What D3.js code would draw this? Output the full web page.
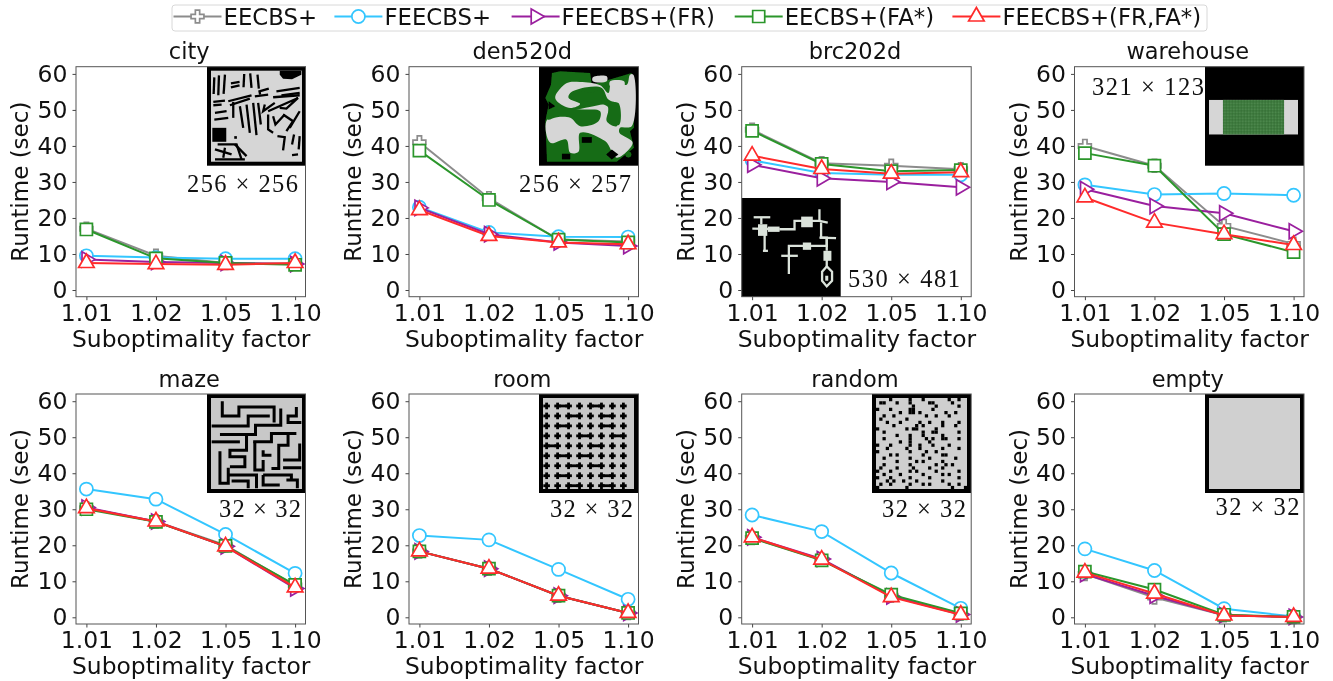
<!DOCTYPE html>
<html><head><meta charset="utf-8">
<script src="https://cdn.jsdelivr.net/npm/d3@7/dist/d3.min.js"></script>
<style>
html,body{margin:0;padding:0;background:#fff;overflow:hidden}
svg{display:block;filter:blur(.4px)}
text{font-family:"DejaVu Sans",sans-serif;fill:#111}
.inlab{font-family:"Liberation Serif",serif}
.tick line{stroke:#444}
</style></head><body><svg id="c" width="1333" height="681">
<defs><filter id="soft" x="0" y="0" width="1" height="1"><feGaussianBlur stdDeviation="0.55"/></filter></defs></svg>
<script>
const factors=["1.01","1.02","1.05","1.10"];
const mapNames=["city","den520d","brc202d","warehouse","maze","room","random","empty"];
const mapSizes=["256 × 256","256 × 257","530 × 481","321 × 123","32 × 32","32 × 32","32 × 32","32 × 32"];
const yTicks=[0,10,20,30,40,50,60];
const seriesNames=["EECBS+","FEECBS+","FEECBS+(FR)","EECBS+(FA*)","FEECBS+(FR,FA*)"];
const seriesColors=["#8c8c8c","#33c6ff","#9a1f9e","#2b962b","#ff2b2b"];
const seriesSymbols=["plus","circle","right","square","triangle"];
const eecbs=[[17,9.5,7.5,7.3],[41,25.5,14,13.5],[44.5,35.2,34.5,33.5],[40,34.5,17.8,12.8],[30.3,26.6,20,8.8],[18.3,13.5,6,1.2],[22,16,6,1],[12,5.5,.6,.1]];
const feecbs=[[9.5,9,8.7,8.7],[23,16,14.8,14.7],[36,32.5,32,32],[29.2,26.5,26.8,26.3],[35.6,32.8,23,12.2],[22.7,21.5,13.3,5],[28.4,23.8,12.3,2.5],[19,13,2.4,.2]];
const feecbsFR=[[8.5,7.8,7.5,7.2],[22.8,15.5,13.2,12.2],[34.8,31,30,28.5],[28,23.3,21.3,16.3],[30.5,26.6,19.7,8],[18.3,13.5,6,1.2],[22.2,16.2,5.8,.8],[12,6,.6,.1]];
const eecbsFA=[[16.8,8.8,7.5,7],[38.7,25,14,13.2],[44.2,35,33,33.3],[38,34.5,15.5,10.5],[30,26.5,19.8,9],[18.3,13.5,6,1.2],[22,15.8,6.3,1.1],[12.7,7.7,.7,.1]];
const feecbsFRFA=[[7.5,7.2,7,7.5],[22.2,15,13.2,12.7],[37.3,33.6,32.3,32.7],[25.7,18.7,15.5,12.5],[30.3,26.6,19.7,8.3],[18.3,13.5,6,1.2],[22.2,16,5.6,.7],[12.4,6.6,.5,.1]];
const seriesData=[eecbs,feecbs,feecbsFR,eecbsFA,feecbsFRFA];

const panelLefts=[76,409,741.7,1074.5];
const panelWidth=229.5;
const rowTops=[66.7,394];
const svg=d3.select("#c");
const sym={plus:d3.symbol(d3.symbolCross,92)(),circle:d3.symbol(d3.symbolCircle,135)(),square:d3.symbol(d3.symbolSquare,145)(),triangle:d3.symbol(d3.symbolTriangle,105)(),right:d3.symbol(d3.symbolTriangle,100)()};
function marker(g,name,color,x,y){
  g.append("path").attr("d",sym[name]).attr("fill","#fff").attr("stroke",color).attr("stroke-width",1.7)
   .attr("transform",`translate(${x},${y})`+(name==="right"?" rotate(90)":""));
}

// ---- inset thumbnails (map-space drawings, zoom coords 6..304) ----
const GRAY="#d6d6d6", MAPGREEN="#146c14";
const cityWalls=[[[28,38],[26,88]],[[42,32],[40,92]],[[60,30],[56,88]],[[78,56],[104,52]],[[78,68],[104,62]],[[118,28],[116,68]],[[136,26],[140,70]],[[158,30],[162,72]],[[166,90],[164,80],[192,72]],[[215,80],[285,70]],[[230,92],[285,85]],[[25,112],[60,108]],[[25,122],[50,120]],[[70,110],[140,92]],[[75,122],[135,102]],[[150,95],[190,90]],[[205,98],[285,92]],[[30,145],[65,140]],[[28,165],[70,160]],[[85,112],[85,160]],[[105,125],[115,190]],[[125,120],[135,205]],[[145,115],[155,212]],[[160,115],[168,180]],[[180,120],[175,140],[210,115]],[[190,140],[280,100],[245,132],[225,130]],[[190,150],[190,195],[205,205]],[[205,155],[212,180],[240,150]],[[235,150],[265,170],[245,200]],[[285,140],[255,190]],[[218,215],[240,218],[235,258]],[[268,210],[262,240]],[[285,215],[282,255]],[[262,272],[280,270]],[[38,240],[95,240],[110,285]],[[30,285],[120,285]],[[30,255],[80,270]],[[55,280],[60,250]],[[90,240],[125,275]]];
const cityBlocks=[[[225,18],[290,18],[290,30],[262,44],[235,42],[225,30]],[[22,190],[64,190],[64,232],[22,232]],[[88,215],[96,215],[96,223],[88,223]]];
const denGreen=[[[45,25],[70,20],[160,25],[165,60],[285,25],[292,190],[280,200],[292,250],[240,292],[30,292],[25,170],[35,120],[25,100],[42,60]]];
const denOpen=[[[55,95],[90,55],[130,52],[190,62],[215,85],[225,50],[270,60],[280,30],[290,30],[285,185],[250,190],[248,205],[288,235],[240,280],[205,230],[130,205],[125,262],[100,265],[88,225],[40,235],[28,170],[60,150],[120,135],[170,125],[200,120],[215,130],[210,170],[240,185],[245,120],[215,105],[195,70],[150,68],[100,85],[95,100],[130,118],[100,130],[60,110]],[[168,38],[210,35],[210,50],[168,50]],[[220,50],[262,50],[262,65],[220,65]]];
const denGreenTop=[[[100,95],[130,80],[160,85],[195,75],[190,115],[150,110],[125,108]],[[30,150],[60,135],[135,135],[190,140],[185,170],[130,185],[100,160],[60,158],[32,165]],[[218,120],[245,115],[248,180],[225,178]]];
const denBlack=[[[135,218],[165,218],[165,235],[135,235]],[[225,255],[245,270],[225,285],[208,270]],[[35,110],[55,125],[35,135]],[[75,268],[100,268],[100,285],[75,285]]];
const brcPaths=[[[42,64],[92,64]],[[65,64],[65,85]],[[38,98],[120,100]],[[75,100],[75,165]],[[70,165],[85,165]],[[120,100],[165,100],[165,75],[240,75],[240,40]],[[240,75],[265,80]],[[245,80],[245,125],[262,125],[262,165]],[[240,125],[290,127]],[[262,125],[262,150],[148,150],[148,235]],[[125,180],[175,180]],[[262,190],[262,215]]];
const brcBlocks=[[55,85,28,35],[185,62,35,32],[190,140,25,22],[252,165,24,30],[85,92,35,16]];
const mazeWalls=[[[52,28],[52,72],[102,72],[102,45],[208,45],[208,92]],[[20,102],[130,102],[130,72],[195,72]],[[228,50],[228,100],[152,100],[152,128],[45,128]],[[275,45],[275,72],[250,72],[250,92],[290,92]],[[20,150],[105,150]],[[125,128],[125,175],[75,175],[75,195],[120,195],[120,225],[75,225]],[[145,150],[200,150],[200,125],[275,125]],[[250,125],[250,160],[222,160],[222,230],[200,230]],[[150,150],[150,235],[175,235],[175,205]],[[175,175],[175,190],[200,190]],[[285,155],[285,205],[235,205]],[[235,228],[290,228]],[[45,178],[45,275],[70,275],[70,228]],[[72,250],[155,250],[155,290]],[[80,268],[130,268],[130,290]],[[175,250],[260,250],[260,265]],[[175,250],[175,280],[225,280]],[[245,265],[278,265],[278,290]]];
const roomX=d3.range(8).map(i=>29+33*i), roomY=d3.range(9).map(i=>42+30*i);
const roomLinks=["0100100","0010010","0100010","0001001","1000100","0101000","0010100","0100010","0010010"];
const randomRows=[
"....#.....#...#.......#..#..",
".##...#...#.....##.....#....",
"...........#......#......#..",
"#...#.....##.....#...........",
".......#..##.#.......#..#...",
"..#..#.........#..#...#.....",
".#.......#..................",
"...#...#.....#..#...#....#..",
".....#......#.#.....#...#...",
"#........#.##.....#.........",
"..#...........#..##......#..",
"......#...#...#.....#.......",
"..#.......#....#.#..##...#..",
".......#..#.....#...........",
"#...#.....#..#...#....#.....",
"...#.....#...#......#....#..",
"#.........#....#..#.........",
"....#.#.......#.....##......",
"..#.......#.....#.......#...",
"......#.....#.#.....#.......",
"..#.......#.......#..#.#....",
".#....#....#....#...#.......",
"#...#.....#.#.....#......#..",
"..#....#......#.....#.#.....",
"#...#.....#.....#........#..",
"...#.#..#...#.......#.......",
".#..#.....#...#.#.....#..#..",
"#........#.............#...#"];
function inset(panel,x0,y0,w,h){
  const sx=d3.scaleLinear().domain([6,304]).range([x0,x0+w]), sy=d3.scaleLinear().domain([6,304]).range([y0,y0+h]);
  const g=svg.append("g").attr("filter","url(#soft)");
  const rect=(a,b,rw,rh,f)=>g.append("rect").attr("x",sx(a)).attr("y",sy(b)).attr("width",sx(a+rw)-sx(a)).attr("height",sy(b+rh)-sy(b)).attr("fill",f);
  const line=d3.line().x(p=>sx(p[0])).y(p=>sy(p[1]));
  const poly=(pts,f)=>g.append("path").attr("d",line(pts)+"Z").attr("fill",f);
  const blob=(pts,f)=>g.append("path").attr("d",d3.line().x(p=>sx(p[0])).y(p=>sy(p[1])).curve(d3.curveCatmullRomClosed.alpha(.5))(pts)).attr("fill",f);
  const path=(pts,c,sw)=>g.append("path").attr("d",line(pts)).attr("fill","none").attr("stroke",c).attr("stroke-width",sw);
  rect(6,6,298,298,"#000");
  const inner=(f)=>rect(18,18,274,274,f);
  if(panel===0){inner(GRAY);cityBlocks.forEach(b=>poly(b,"#000"));cityWalls.forEach(p=>path(p,"#000",2.3));}
  if(panel===1){denGreen.forEach(p=>poly(p,MAPGREEN));denOpen.forEach(p=>blob(p,GRAY));denGreenTop.forEach(p=>blob(p,MAPGREEN));denBlack.forEach(p=>poly(p,"#000"));g.append("circle").attr("cx",sx(275)).attr("cy",sy(270)).attr("r",3).attr("fill",MAPGREEN);}
  if(panel===2){brcPaths.forEach(p=>path(p,"#dbe3db",2.3));brcBlocks.forEach(b=>rect(b[0],b[1],b[2],b[3],"#dbe3db"));
    path([[262,212],[278,228],[278,255],[262,272],[248,255],[248,228],[262,212]],"#dbe3db",2.3);
    path([[262,240],[262,255]],"#dbe3db",3);}
  if(panel===3){rect(18,106,268,104,GRAY);rect(60,106,184,104,"#3f7a3f");
    d3.range(66,244,9).forEach(a=>path([[a,106],[a,210]],"#5f9a5f",.6));
    d3.range(112,210,9).forEach(a=>path([[60,a],[244,a]],"#2f6a2f",.6));}
  if(panel===4){inner("#c8c8c8");mazeWalls.forEach(p=>path(p,"#000",3));}
  if(panel===5){inner("#c8c8c8");
    roomX.forEach(a=>roomY.forEach(b=>{path([[a,b-10],[a,b+10]],"#000",2.8);path([[a-10,b],[a+10,b]],"#000",2.8);}));
    roomLinks.forEach((s,j)=>s.split("").forEach((c,i)=>{if(c==="1")path([[roomX[i],roomY[j]],[roomX[i+1],roomY[j]]],"#000",2.8);}));}
  if(panel===6){inner("#cfcfcf");randomRows.forEach((s,j)=>s.split("").forEach((c,i)=>{if(c==="#")rect(18+i*9.8,18+j*9.8,9.8,9.8,"#000");}));}
  if(panel===7){rect(18,18,274,274,"#d0d0d0");}
}

const inlabPos=[[187,192,111],[519,192,112],[848,287,112],[1092,95,112],[219,517,82],[550,517,83],[882,517,84],[1215.5,515,84]];
const insetPos=[[207,66.7],[539,66.7],[741.7,198],[1205,66.7],[207,394],[539,394],[872,394],[1205,394]];

mapNames.forEach((name,m)=>{
  const col=m%4,row=Math.floor(m/4);
  const L=panelLefts[col],T=rowTops[row],W=panelWidth,H=230;
  const x=d3.scalePoint().domain(factors).range([L+10.4,L+W-10.4]);
  const y=d3.scaleLinear().domain([-1.86,62]).range([T+H,T]);
  const g=svg.append("g");
  g.append("rect").attr("x",L).attr("y",T).attr("width",W).attr("height",H).attr("fill","#fff");
  const ax=g.append("g").attr("transform",`translate(0,${T+H})`).call(d3.axisBottom(x).tickSize(3.5).tickPadding(4));
  ax.selectAll("text").style("font-size","23.5px");
  const ay=g.append("g").attr("transform",`translate(${L},0)`).call(d3.axisLeft(y).tickValues(yTicks).tickSize(3.5).tickPadding(5).tickFormat(d3.format("d")));
  ay.selectAll("text").style("font-size","23.5px");
  ax.select(".domain").remove();ay.select(".domain").remove();
  g.append("text").attr("x",L+W/2-1.5).attr("y",row?387:59).attr("text-anchor","middle").style("font-size","22.5px").text(name);
  g.append("text").attr("x",L+W/2+0.5).attr("y",T+H+50).attr("text-anchor","middle").style("font-size","23.4px").text("Suboptimality factor");
  g.append("text").attr("transform",`translate(${L-48},${T+115}) rotate(-90)`).attr("text-anchor","middle").style("font-size","23px").text("Runtime (sec)");
  inset(m,insetPos[m][0],insetPos[m][1],99,99);
  seriesData.forEach((sd,s)=>{
    const vals=sd[m];
    const gs=svg.append("g");
    gs.append("path").attr("d",d3.line().x((d,i)=>x(factors[i])).y(d=>y(d))(vals)).attr("fill","none").attr("stroke",seriesColors[s]).attr("stroke-width",2);
    vals.forEach((v,i)=>marker(gs,seriesSymbols[s],seriesColors[s],x(factors[i]),y(v)));
  });
  svg.append("rect").attr("x",L).attr("y",T).attr("width",W).attr("height",H).attr("fill","none").attr("stroke","#555").attr("stroke-width",1);
  const p=inlabPos[m];
  svg.append("text").attr("class","inlab").attr("x",p[0]).attr("y",p[1]).attr("textLength",p[2]).attr("lengthAdjust","spacing").style("font-size","24.5px").text(mapSizes[m]);
});

// legend
const lg=svg.append("g");
lg.append("rect").attr("x",172).attr("y",5).attr("width",1035).attr("height",26).attr("rx",3).attr("fill","#fff").attr("stroke","#d8d8d8").attr("stroke-width",1);
const legendLineX=[173.5,334.4,511.6,734.7,952.4];
legendLineX.forEach((lx,s)=>{
  lg.append("line").attr("x1",lx).attr("x2",lx+48).attr("y1",16.5).attr("y2",16.5).attr("stroke",seriesColors[s]).attr("stroke-width",2);
  marker(lg,seriesSymbols[s],seriesColors[s],lx+24,16.5);
  lg.append("text").attr("x",lx+50).attr("y",25).style("font-size","22.8px").text(seriesNames[s]);
});
</script></body></html>
